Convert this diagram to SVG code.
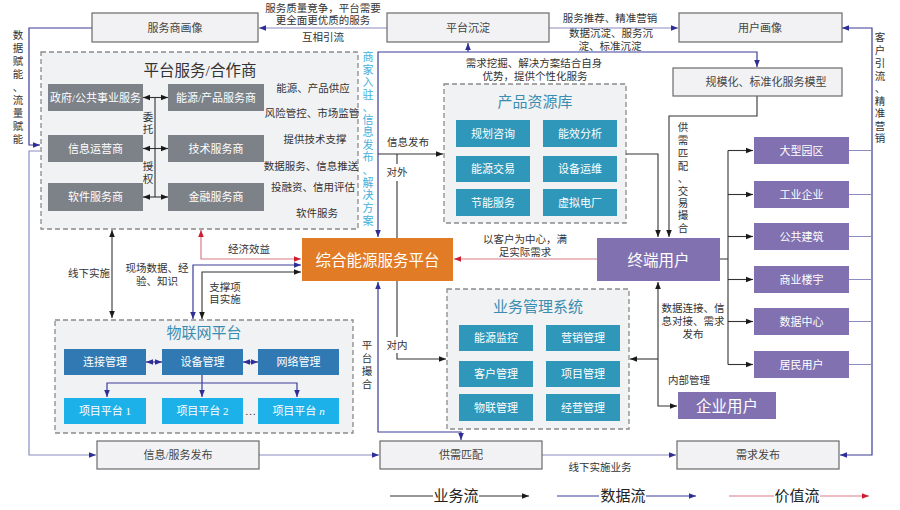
<svg xmlns="http://www.w3.org/2000/svg" width="900" height="510" viewBox="0 0 900 510">
<defs>
<style>
text{font-family:"Liberation Serif","Noto Sans CJK SC",serif;}
.a{font-size:10.5px;fill:#333;text-anchor:middle;dominant-baseline:central;}
.cy{font-size:11px;fill:#45b0dc;text-anchor:middle;dominant-baseline:central;}
.nb{fill:#f2f2f4;stroke:#6a6a6a;stroke-width:1.2;}
.nt{font-size:11px;fill:#444;text-anchor:middle;dominant-baseline:central;}
.grp{fill:#f1f2f4;stroke:#8a8a8a;stroke-width:1.3;stroke-dasharray:5 3;}
.gt{font-size:15px;fill:#3a8db0;text-anchor:middle;dominant-baseline:central;}
.gray{fill:#7d8188;}
.teal{fill:#2e97ba;}
.iot{fill:#3079b3;}
.proj{fill:#1db1ea;}
.pur{fill:#8171b0;}
.org{fill:#e27b25;}
.wt{font-size:11px;fill:#fff;text-anchor:middle;dominant-baseline:central;}
.wb{font-size:15.5px;fill:#fff;text-anchor:middle;dominant-baseline:central;}
.k{fill:none;stroke:#333;stroke-width:1.1;}
.d{fill:none;stroke:#3d3d99;stroke-width:1.2;}
.dl{fill:none;stroke:#8c8cc2;stroke-width:1.2;}
.r{fill:none;stroke:#d77d86;stroke-width:1.2;}
.lg{font-size:15px;fill:#222;text-anchor:middle;dominant-baseline:central;}
</style>
<marker id="ak" viewBox="0 0 10 10" refX="10" refY="5" markerWidth="8" markerHeight="7" markerUnits="userSpaceOnUse" orient="auto-start-reverse"><path d="M0,1 L10,5 L0,9 z" fill="#1a1a1a"/></marker>
<marker id="ab" viewBox="0 0 10 10" refX="10" refY="5" markerWidth="8" markerHeight="7" markerUnits="userSpaceOnUse" orient="auto-start-reverse"><path d="M0,1 L10,5 L0,9 z" fill="#2e2e96"/></marker>
<marker id="ar" viewBox="0 0 10 10" refX="10" refY="5" markerWidth="8" markerHeight="7" markerUnits="userSpaceOnUse" orient="auto-start-reverse"><path d="M0,1 L10,5 L0,9 z" fill="#cc2030"/></marker>
</defs>
<rect width="900" height="510" fill="#fff"/>

<!-- group containers -->
<g id="g-partners">
<rect class="grp" x="41" y="52" width="317" height="177"/>
<text x="200" y="70" font-size="15.5" fill="#333" text-anchor="middle" dominant-baseline="central">平台服务/合作商</text>
</g>
<g id="g-products">
<rect class="grp" x="444" y="84" width="182" height="139"/>
<text class="gt" x="535" y="102">产品资源库</text>
</g>
<g id="g-business">
<rect class="grp" x="447" y="289" width="182" height="140"/>
<text class="gt" x="538" y="307">业务管理系统</text>
</g>
<g id="g-iot">
<rect class="grp" x="55" y="320" width="298" height="113"/>
<text class="gt" x="204" y="333" fill="#2f79b3">物联网平台</text>
</g>

<!-- connectors -->
<g id="connectors">
<path class="d" d="M92,28 L29,28 L29,145 L40,145" marker-end="url(#ab)"/>
<path class="d" d="M842,28 L872,28 L872,455 L840,455" marker-start="url(#ab)" marker-end="url(#ab)"/>
<path class="d" d="M378,237 L378,52 L757,52 L757,67" marker-start="url(#ab)" marker-end="url(#ab)"/>
<path class="d" d="M468,52 L468,43" marker-end="url(#ab)"/>
<path class="d" d="M378,282 L378,432 L461,432 L461,440" marker-start="url(#ab)" marker-end="url(#ab)"/>
<path class="d" d="M193,319 L193,265 L301,265" marker-start="url(#ab)" marker-end="url(#ab)"/>
<path class="d" d="M146,362 L162,362" marker-start="url(#ab)" marker-end="url(#ab)"/>
<path class="d" d="M243,362 L258,362" marker-start="url(#ab)" marker-end="url(#ab)"/>
<path class="d" d="M202,375 L202,397"  marker-end="url(#ab)"/>
<path class="d" d="M107,397 L107,383 L297,383 L297,397" marker-start="url(#ab)" marker-end="url(#ab)"/>

<path class="dl" d="M387,28 L259,28" marker-end="url(#ab)"/>
<path class="dl" d="M549,28 L678,28" marker-end="url(#ab)"/>
<path class="dl" d="M40,151 L29,151 L29,455 L96,455" marker-end="url(#ab)"/>
<path class="dl" d="M259,455 L379,455" marker-end="url(#ab)"/>
<path class="dl" d="M542,455 L676,455" marker-end="url(#ab)"/>
<path class="dl" d="M849,150.5 L872,150.5 M849,194.5 L872,194.5 M849,236.5 L872,236.5 M849,279.5 L872,279.5 M849,321.5 L872,321.5 M849,364.5 L872,364.5"/>

<path class="k" d="M378,154 L443,154" marker-end="url(#ak)"/>
<path class="k" d="M397,154 L397,164 M397,181 L397,238"/>
<path class="k" d="M397,281 L397,337"/>
<path class="k" d="M397,353 L397,359 L446,359" marker-end="url(#ak)"/>
<path class="k" d="M202,319 L202,272 L301,272" marker-start="url(#ak)" marker-end="url(#ak)"/>
<path class="k" d="M112,230 L112,318" marker-start="url(#ak)" marker-end="url(#ak)"/>
<path class="k" d="M143,97.5 L168,97.5" marker-start="url(#ak)" marker-end="url(#ak)"/>
<path class="k" d="M143,148.5 L168,148.5" marker-start="url(#ak)" marker-end="url(#ak)"/>
<path class="k" d="M143,197 L168,197" marker-start="url(#ak)" marker-end="url(#ak)"/>
<path class="k" d="M155,97.5 L155,197"/>
<path class="k" d="M626,154 L658,154 L658,237" marker-end="url(#ak)"/>
<path class="k" d="M757,96 L757,116 L669,116 L669,237" marker-end="url(#ak)"/>
<path class="k" d="M720,259 L728,259 M728,150.5 L728,364.5"/>
<path class="k" d="M728,150.5 L753,150.5" marker-end="url(#ak)"/>
<path class="k" d="M728,194.5 L753,194.5" marker-end="url(#ak)"/>
<path class="k" d="M728,236.5 L753,236.5" marker-end="url(#ak)"/>
<path class="k" d="M728,279.5 L753,279.5" marker-end="url(#ak)"/>
<path class="k" d="M728,321.5 L753,321.5" marker-end="url(#ak)"/>
<path class="k" d="M728,364.5 L753,364.5" marker-end="url(#ak)"/>
<path class="k" d="M658,282 L658,406 L677,406" marker-start="url(#ak)" marker-end="url(#ak)"/>
<path class="k" d="M658,359 L630,359" marker-end="url(#ak)"/>

<path class="r" d="M201,230 L201,259 L301,259" marker-start="url(#ar)" marker-end="url(#ar)"/>
<path class="r" d="M597,259 L454,259" marker-end="url(#ar)"/>
</g>

<!-- top nodes -->
<g id="n-fwshx"><rect class="nb" x="92" y="13" width="166" height="29"/><text class="nt" x="175" y="28">服务商画像</text></g>
<g id="n-ptcd"><rect class="nb" x="387" y="13" width="162" height="29"/><text class="nt" x="468" y="28" font-size="12">平台沉淀</text></g>
<g id="n-yhhx"><rect class="nb" x="679" y="13" width="163" height="29"/><text class="nt" x="760" y="28">用户画像</text></g>
<g id="n-gmh"><rect class="nb" x="673" y="68" width="169" height="28"/><text class="nt" x="766" y="82" font-size="12">规模化、标准化服务模型</text></g>

<!-- partners -->
<g id="n-zf"><rect class="gray" x="48" y="84" width="95" height="27"/><text class="wt" x="95.5" y="97.5">政府/公共事业服务</text></g>
<g id="n-ny"><rect class="gray" x="168" y="84" width="96" height="27"/><text class="wt" x="216" y="97.5">能源/产品服务商</text></g>
<g id="n-xx"><rect class="gray" x="48" y="135" width="95" height="27"/><text class="wt" x="95.5" y="148.5">信息运营商</text></g>
<g id="n-js"><rect class="gray" x="168" y="135" width="96" height="27"/><text class="wt" x="216" y="148.5">技术服务商</text></g>
<g id="n-rj"><rect class="gray" x="48" y="183" width="95" height="28"/><text class="wt" x="95.5" y="197">软件服务商</text></g>
<g id="n-jr"><rect class="gray" x="168" y="183" width="96" height="28"/><text class="wt" x="216" y="197">金融服务商</text></g>

<!-- products -->
<g id="n-ghzx"><rect class="teal" x="456" y="120" width="74" height="27"/><text class="wt" x="493" y="133.5">规划咨询</text></g>
<g id="n-nxfx"><rect class="teal" x="543" y="120" width="74" height="27"/><text class="wt" x="580" y="133.5">能效分析</text></g>
<g id="n-nyjy"><rect class="teal" x="456" y="156" width="74" height="26"/><text class="wt" x="493" y="169">能源交易</text></g>
<g id="n-sbyw"><rect class="teal" x="543" y="156" width="74" height="26"/><text class="wt" x="580" y="169">设备运维</text></g>
<g id="n-jnfw"><rect class="teal" x="456" y="189" width="74" height="27"/><text class="wt" x="493" y="202.5">节能服务</text></g>
<g id="n-xndc"><rect class="teal" x="543" y="189" width="74" height="27"/><text class="wt" x="580" y="202.5">虚拟电厂</text></g>

<!-- business -->
<g id="n-nyjk"><rect class="teal" x="459" y="325" width="74" height="26"/><text class="wt" x="496" y="338">能源监控</text></g>
<g id="n-yxgl"><rect class="teal" x="546" y="325" width="74" height="26"/><text class="wt" x="583" y="338">营销管理</text></g>
<g id="n-khgl"><rect class="teal" x="459" y="361" width="74" height="26"/><text class="wt" x="496" y="374">客户管理</text></g>
<g id="n-xmgl"><rect class="teal" x="546" y="361" width="74" height="26"/><text class="wt" x="583" y="374">项目管理</text></g>
<g id="n-wlgl"><rect class="teal" x="459" y="394" width="74" height="27"/><text class="wt" x="496" y="407.5">物联管理</text></g>
<g id="n-jygl"><rect class="teal" x="546" y="394" width="74" height="27"/><text class="wt" x="583" y="407.5">经营管理</text></g>

<!-- iot -->
<g id="n-ljgl"><rect class="iot" x="64" y="349" width="82" height="26"/><text class="wt" x="105" y="362">连接管理</text></g>
<g id="n-sbgl"><rect class="iot" x="162" y="349" width="81" height="26"/><text class="wt" x="202.5" y="362">设备管理</text></g>
<g id="n-wlgl2"><rect class="iot" x="258" y="349" width="81" height="26"/><text class="wt" x="298.5" y="362">网络管理</text></g>
<g id="n-xm1"><rect class="proj" x="64" y="398" width="82" height="26"/><text class="wt" x="105" y="411">项目平台 1</text></g>
<g id="n-xm2"><rect class="proj" x="162" y="398" width="81" height="26"/><text class="wt" x="202.5" y="411">项目平台 2</text></g>
<g id="n-xmn"><rect class="proj" x="258" y="398" width="81" height="26"/><text class="wt" x="298.5" y="411">项目平台 <tspan font-style="italic">n</tspan></text></g>
<text x="250.5" y="411" font-size="11" fill="#333" text-anchor="middle" dominant-baseline="central">…</text>

<!-- core nodes -->
<g id="n-platform"><rect class="org" x="302" y="238" width="151" height="43"/><text class="wb" x="377.5" y="260">综合能源服务平台</text></g>
<g id="n-zdyh"><rect class="pur" x="597" y="238" width="123" height="43"/><text class="wb" x="658.5" y="260">终端用户</text></g>
<g id="n-qyyh"><rect class="pur" x="678" y="392" width="98" height="27"/><text class="wb" x="727" y="406" font-size="15">企业用户</text></g>

<g id="n-dxyq"><rect class="pur" x="754" y="137" width="95" height="27"/><text class="wt" x="801.5" y="150.5">大型园区</text></g>
<g id="n-gyqy"><rect class="pur" x="754" y="181" width="95" height="27"/><text class="wt" x="801.5" y="194.5">工业企业</text></g>
<g id="n-ggjz"><rect class="pur" x="754" y="223" width="95" height="27"/><text class="wt" x="801.5" y="236.5">公共建筑</text></g>
<g id="n-syly"><rect class="pur" x="754" y="266" width="95" height="27"/><text class="wt" x="801.5" y="279.5">商业楼宇</text></g>
<g id="n-sjzx"><rect class="pur" x="754" y="308" width="95" height="27"/><text class="wt" x="801.5" y="321.5">数据中心</text></g>
<g id="n-jmyh"><rect class="pur" x="754" y="351" width="95" height="27"/><text class="wt" x="801.5" y="364.5">居民用户</text></g>

<!-- bottom nodes -->
<g id="n-xxfb"><rect class="nb" x="97" y="441" width="162" height="28"/><text class="nt" x="178" y="455">信息/服务发布</text></g>
<g id="n-gxpp"><rect class="nb" x="380" y="441" width="162" height="28"/><text class="nt" x="461" y="455">供需匹配</text></g>
<g id="n-xqfb"><rect class="nb" x="677" y="441" width="162" height="28"/><text class="nt" x="758" y="455">需求发布</text></g>

<!-- labels -->
<g id="labels">
<text class="a" x="323" y="8">服务质量竞争，平台需要</text>
<text class="a" x="323" y="20">更全面更优质的服务</text>
<text class="a" x="323" y="37">互相引流</text>
<text class="a" x="610" y="18">服务推荐、精准营销</text>
<text class="a" x="611" y="33">数据沉淀、服务沉</text>
<text class="a" x="610" y="46">淀、标准沉淀</text>
<text class="a" x="534" y="63">需求挖掘、解决方案结合自身</text>
<text class="a" x="535" y="76">优势，提供个性化服务</text>
<text class="a" x="313" y="88">能源、产品供应</text>
<text class="a" x="312" y="113">风险管控、市场监管</text>
<text class="a" x="315" y="139">提供技术支撑</text>
<text class="a" x="311" y="166">数据服务、信息推送</text>
<text class="a" x="313" y="187">投融资、信用评估</text>
<text class="a" x="317" y="213">软件服务</text>
<text class="a" x="148" y="117">委</text><text class="a" x="148" y="129">托</text>
<text class="a" x="148" y="166">授</text><text class="a" x="148" y="179">权</text>
<text class="a" x="408" y="142">信息发布</text>
<text class="a" x="397" y="172">对外</text>
<text class="a" x="397" y="345">对内</text>
<text class="a" x="249" y="249">经济效益</text>
<text class="a" x="157" y="268">现场数据、经</text>
<text class="a" x="157" y="281">验、知识</text>
<text class="a" x="225" y="287">支撑项</text>
<text class="a" x="225" y="299">目实施</text>
<text class="a" x="89" y="273">线下实施</text>
<text class="a" x="525" y="239">以客户为中心，满</text>
<text class="a" x="525" y="252">足实际需求</text>
<text class="a" x="693" y="308">数据连接、信</text>
<text class="a" x="693" y="321">息对接、需求</text>
<text class="a" x="693" y="334">发布</text>
<text class="a" x="689" y="380">内部管理</text>
<text class="a" x="600" y="467">线下实施业务</text>

<text class="a"><tspan x="18" y="35">数</tspan><tspan x="18" y="48">据</tspan><tspan x="18" y="61">赋</tspan><tspan x="18" y="74">能</tspan><tspan x="18" y="87">、</tspan><tspan x="18" y="100">流</tspan><tspan x="18" y="113">量</tspan><tspan x="18" y="126">赋</tspan><tspan x="18" y="139">能</tspan></text>
<text class="a"><tspan x="880" y="37">客</tspan><tspan x="880" y="50">户</tspan><tspan x="880" y="63">引</tspan><tspan x="880" y="76">流</tspan><tspan x="880" y="88">、</tspan><tspan x="880" y="101">精</tspan><tspan x="880" y="113">准</tspan><tspan x="880" y="126">营</tspan><tspan x="880" y="138">销</tspan></text>
<text class="cy"><tspan x="368" y="57">商</tspan><tspan x="368" y="70">家</tspan><tspan x="368" y="82">入</tspan><tspan x="368" y="95">驻</tspan><tspan x="368" y="107">、</tspan><tspan x="368" y="120">信</tspan><tspan x="368" y="132">息</tspan><tspan x="368" y="145">发</tspan><tspan x="368" y="157">布</tspan><tspan x="368" y="170">、</tspan><tspan x="368" y="183">解</tspan><tspan x="368" y="195">决</tspan><tspan x="368" y="208">方</tspan><tspan x="368" y="221">案</tspan></text>
<text class="a"><tspan x="683" y="127">供</tspan><tspan x="683" y="140">需</tspan><tspan x="683" y="153">匹</tspan><tspan x="683" y="166">配</tspan><tspan x="683" y="178">、</tspan><tspan x="683" y="191">交</tspan><tspan x="683" y="203">易</tspan><tspan x="683" y="215">撮</tspan><tspan x="683" y="228">合</tspan></text>
<text class="a"><tspan x="367" y="345">平</tspan><tspan x="367" y="358">台</tspan><tspan x="367" y="371">撮</tspan><tspan x="367" y="384">合</tspan></text>
</g>

<!-- legend -->
<g id="legend">
<path class="k" d="M390,496 L433,496"/>
<text class="lg" x="456" y="496">业务流</text>
<path class="k" d="M479,496 L529,496" marker-end="url(#ak)"/>
<path class="d" d="M557,496 L599,496"/>
<text class="lg" x="623" y="496">数据流</text>
<path class="d" d="M646,496 L696,496" marker-end="url(#ab)"/>
<path class="r" d="M729,496 L774,496"/>
<text class="lg" x="797" y="496">价值流</text>
<path class="r" d="M820,496 L869,496" marker-end="url(#ar)"/>
</g>
</svg>
